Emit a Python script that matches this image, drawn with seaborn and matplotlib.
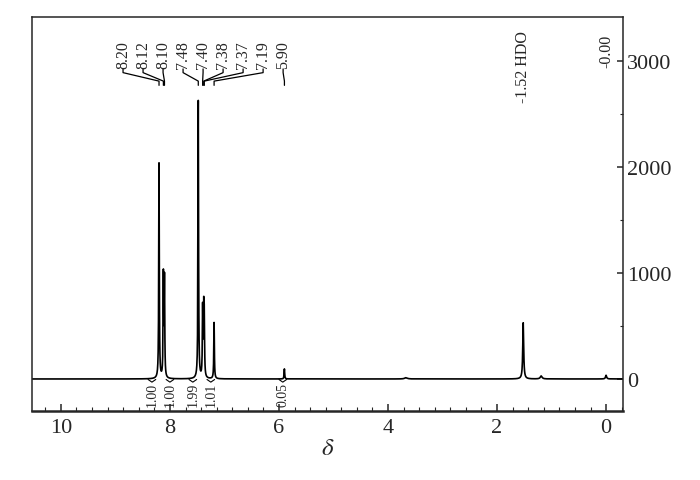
import numpy as np
import pandas as pd
import seaborn as sns
import matplotlib.pyplot as plt
from matplotlib.ticker import MultipleLocator, AutoMinorLocator


# =========================
# Peak list
# =========================

shifts = [8.20, 8.12, 8.10, 7.48, 7.40, 7.38, 7.37, 7.19, 5.90, 3.67, 1.52, 1.19, 0.00]
heights = [2030, 950, 920, 2620, 640, 580, 510, 530, 95, 12, 530, 28, 35]
widths = [0.006, 0.006, 0.006, 0.006, 0.006, 0.006, 0.006, 0.006, 0.006, 0.03, 0.01, 0.02, 0.012]

# labelled peaks at the top
peak_labels = ["8.20", "8.12", "8.10", "7.48", "7.40", "7.38", "7.37", "7.19", "5.90"]
peak_label_pos = [8.20, 8.12, 8.10, 7.48, 7.40, 7.38, 7.37, 7.19, 5.90]

# integrals under the baseline
integral_values = ["1.00", "1.00", "1.99", "1.01", "0.05"]
integral_pos = [8.33, 8.00, 7.58, 7.25, 5.93]


# =========================
# Build spectrum from peak list (Lorentzian lines)
# =========================

ppm = np.arange(-0.31, 10.53, 0.001)
intensity = np.zeros_like(ppm)
for s, h, w in zip(shifts, heights, widths):
    intensity += h / (1 + ((ppm - s) / w) ** 2)

df = pd.DataFrame({"ppm": ppm, "intensity": intensity})


# =========================
# Plot
# =========================

sns.set_style("ticks")
plt.rcParams["font.family"] = ["Liberation Serif", "DejaVu Serif"]
plt.rcParams["mathtext.fontset"] = "stix"

fig = plt.figure(figsize=(7, 4.81), dpi=100)
ax = fig.add_axes([0.0457, 0.1435, 0.8443, 0.8191])

sns.lineplot(
    data=df,
    x="ppm",
    y="intensity",
    color="black",
    linewidth=1.2,
    estimator=None,
    sort=False,
    ax=ax
)

ax.set_xlim(10.53, -0.31)
ax.set_ylim(-302, 3415)

# axes style
for side in ["top", "left", "right"]:
    ax.spines[side].set_linewidth(1.1)
ax.spines["bottom"].set_linewidth(1.8)

ax.xaxis.set_major_locator(MultipleLocator(2))
ax.xaxis.set_minor_locator(AutoMinorLocator(7))
ax.yaxis.set_major_locator(MultipleLocator(1000))
ax.yaxis.set_minor_locator(MultipleLocator(500))
ax.yaxis.tick_right()

ax.tick_params(axis="x", which="both", direction="in", top=False, labelsize=16, pad=5)
ax.tick_params(axis="x", which="major", length=5, width=1.1)
ax.tick_params(axis="x", which="minor", length=3, width=0.8)
ax.tick_params(axis="y", which="both", direction="in", left=False, right=True,
               labelleft=False, labelright=True, labelsize=16, pad=3)
ax.tick_params(axis="y", which="major", length=4, width=1.1)
ax.tick_params(axis="y", which="minor", length=2, width=0.8)

ax.set_xlabel(r"$\delta$", fontsize=18, labelpad=0)
ax.set_ylabel("")


# =========================
# Peak labels and connectors
# =========================

label_x = [8.86 - 0.367 * i for i in range(len(peak_labels))]
for lx, px, txt in zip(label_x, peak_label_pos, peak_labels):
    ax.text(lx, 2935, txt, rotation=90, ha="center", va="bottom", fontsize=11.5)
    ax.plot([lx, lx, px, px], [2925, 2890, 2810, 2770], color="black", linewidth=0.9)

ax.text(1.52, 2613, "-1.52 HDO", rotation=90, ha="center", va="bottom", fontsize=11.5)
ax.text(0.00, 2943, "-0.00", rotation=90, ha="center", va="bottom", fontsize=11.5)


# =========================
# Integrals
# =========================

for ix, txt in zip(integral_pos, integral_values):
    ax.text(ix, -25, txt, rotation=90, ha="center", va="top", fontsize=10)
    ax.plot([ix - 0.07, ix, ix + 0.07], [-5, -30, -5], color="black", linewidth=0.8)

fig.savefig("out.png", dpi=100)
